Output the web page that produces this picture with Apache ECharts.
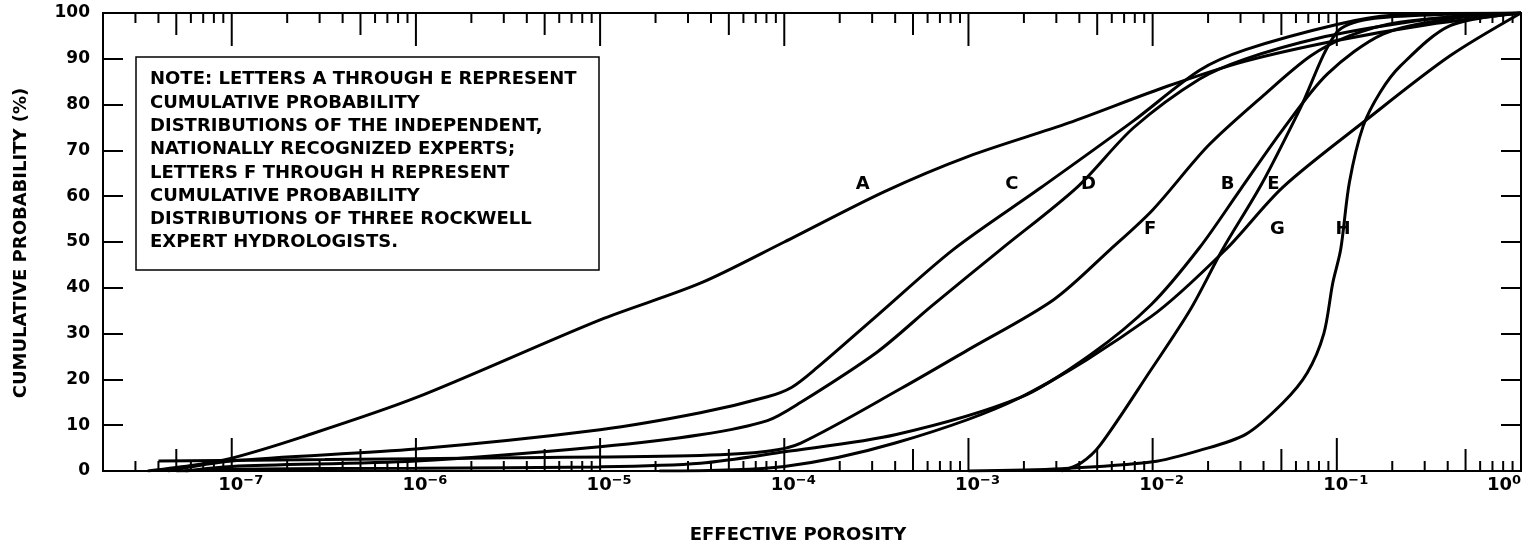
<!DOCTYPE html>
<html>
<head>
<meta charset="utf-8">
<script src="https://cdn.jsdelivr.net/npm/echarts@6/dist/echarts.min.js"></script>
<style>
html,body{margin:0;padding:0;background:#fff;}
#chart{width:1533px;height:547px;}
</style>
</head>
<body>
<div id="chart"></div>
<script>
// ---------- data (porosity, cumulative probability %) ----------
const curveA = [[3.5e-8,0],[6.3e-8,1.3],[1e-7,2.8],[2.4e-7,7.4],[1e-6,16],[1e-5,33],[3.5e-5,41],[1e-4,50],[3.5e-4,61],[1e-3,68.7],[3.5e-3,76],[1.2e-2,84],[3.2e-2,89.5],[0.1,94],[0.316,97.5],[1,100]];
const curveB = [[5e-8,0],[1e-7,0.4],[1e-6,0.6],[1e-5,0.9],[3.5e-5,1.7],[1e-4,4.2],[4e-4,7.9],[1.9e-3,16],[4.6e-3,25.4],[9.8e-3,36.3],[1.8e-2,48.8],[3e-2,61.5],[5.1e-2,74.6],[8.9e-2,86.7],[0.178,95.4],[0.41,98.7],[1,100]];
const curveC = [[4.5e-8,0],[1e-7,2.2],[1e-6,4.8],[1e-5,9],[3.5e-5,12.7],[8.1e-5,16.2],[1.1e-4,18.3],[1.5e-4,22.5],[3.2e-4,34],[8.3e-4,48.4],[2.5e-3,62],[7.9e-3,76.5],[1.8e-2,87.5],[3.2e-2,92],[0.1,97.5],[0.2,99.5],[1,100]];
const curveD = [[5.6e-8,0],[1e-7,1.0],[1e-6,2.2],[1e-5,5.3],[3.5e-5,7.9],[8.1e-5,11],[1.23e-4,15],[3.2e-4,26],[6.3e-4,36],[1.5e-3,48.4],[3.9e-3,62],[7.9e-3,75],[1.8e-2,85.6],[3.2e-2,90],[7.9e-2,94.5],[0.2,97.5],[0.5,99.5],[1,100]];
const curveE = [[3.2e-3,0],[4.1e-3,1.8],[5.2e-3,5.7],[9.8e-3,22.1],[1.6e-2,35.2],[2.4e-2,48.4],[3.9e-2,62.6],[6.3e-2,79],[0.1,95.8],[0.151,98.7],[0.4,99.7],[1,100]];
const curveF = [[4e-8,2.2],[3.2e-7,2.5],[3.2e-6,2.9],[3.5e-5,3.4],[8.1e-5,4.3],[1.23e-4,6.1],[4.3e-4,18],[1e-3,26.5],[2.9e-3,37.4],[5.9e-3,48.4],[1e-2,57],[2e-2,71],[4e-2,82],[7.2e-2,90.6],[0.117,95],[0.219,98],[1,100]];
const curveG = [[2.1e-5,0],[1e-4,1.0],[4e-4,6.1],[1.9e-3,16],[9.8e-3,33.7],[2.5e-2,48.4],[5.1e-2,62],[0.146,76.8],[0.41,90.6],[1,100]];
const curveH = [[1e-3,0],[3.2e-3,0.5],[1e-2,2.0],[1.8e-2,4.5],[3.2e-2,8],[5.1e-2,14.9],[6.9e-2,21.4],[8.5e-2,30],[9.5e-2,41],[0.105,48.4],[0.117,63],[0.139,75.3],[0.172,82.7],[0.221,88.4],[0.41,97.2],[1,100]];

const curveNames = ['A','B','C','D','E','F','G','H'];
const curves = [curveA, curveB, curveC, curveD, curveE, curveF, curveG, curveH];

// letter labels: [letter, porosity, probability]
const curveLabels = [['A',2.67e-4,62.6],['C',1.72e-3,62.6],['D',4.49e-3,62.6],['F',9.7e-3,52.7],['B',2.55e-2,62.6],['E',4.52e-2,62.6],['G',4.75e-2,52.7],['H',0.108,52.7]];

// axes
const xMin = 2e-8, xMax = 1;
const yMin = 0, yMax = 100, yStep = 10;
const decadeExponents = [-7,-6,-5,-4,-3,-2,-1,0];
const minorMultipliers = [2,3,4,5,6,7,8,9];

const noteLines = [
  'NOTE: LETTERS A THROUGH E REPRESENT',
  'CUMULATIVE PROBABILITY',
  'DISTRIBUTIONS OF THE INDEPENDENT,',
  'NATIONALLY RECOGNIZED EXPERTS;',
  'LETTERS F THROUGH H REPRESENT',
  'CUMULATIVE PROBABILITY',
  'DISTRIBUTIONS OF THREE ROCKWELL',
  'EXPERT HYDROLOGISTS.'
];
const xTitle = 'EFFECTIVE POROSITY';
const yTitle = 'CUMULATIVE PROBABILITY (%)';

// ---------- build tick list for log axis (kind: 0 minor, 1 five, 2 decade) ----------
const logTicks = [];
for (let e = -8; e <= 0; e++) {
  const base = Math.pow(10, e);
  if (base >= xMin && base <= xMax) logTicks.push([base, 0, 2]);
  if (e < 0) {
    minorMultipliers.forEach(m => {
      const v = m * base;
      if (v > xMin * 1.01 && v < xMax) logTicks.push([v, 0, m === 5 ? 1 : 0]);
    });
  }
}
const tickLen = [10, 22, 33];

const FONT = 'DejaVu Sans';
const chart = echarts.init(document.getElementById('chart'), null, {renderer: 'canvas'});

const series = curves.map((d, i) => ({
  name: curveNames[i],
  type: 'line',
  data: d,
  showSymbol: false,
  symbol: 'none',
  smooth: 0.3,
  lineStyle: {color: '#000', width: 3},
  silent: true,
  clip: true,
  z: 3
}));

series.push({
  type: 'custom',
  coordinateSystem: 'cartesian2d',
  data: logTicks,
  encode: {x: 0, y: 1},
  silent: true,
  clip: false,
  z: 4,
  renderItem: function (params, api) {
    const x = api.value(0);
    const len = tickLen[api.value(2)];
    const pb = api.coord([x, yMin]);
    const pt = api.coord([x, yMax]);
    const st = {stroke: '#000', lineWidth: 2};
    return {
      type: 'group',
      children: [
        {type: 'line', shape: {x1: pb[0], y1: pb[1], x2: pb[0], y2: pb[1] - len}, style: st},
        {type: 'line', shape: {x1: pt[0], y1: pt[1], x2: pt[0], y2: pt[1] + len}, style: st}
      ]
    };
  }
});

series.push({
  type: 'scatter',
  data: curveLabels.map(l => ({name: l[0], value: [l[1], l[2]]})),
  symbolSize: 0,
  silent: true,
  z: 5,
  itemStyle: {opacity: 1, color: '#000'},
  label: {
    show: true,
    position: 'inside',
    formatter: p => p.name,
    fontFamily: FONT,
    fontSize: 18,
    fontWeight: 'bold',
    color: '#000',
    textBorderWidth: 0
  }
});

const option = {
  animation: false,
  backgroundColor: '#fff',
  grid: {left: 103, top: 13, width: 1418, height: 458, show: true, borderColor: '#000', borderWidth: 2, backgroundColor: 'transparent'},
  xAxis: {
    type: 'log',
    logBase: 10,
    min: xMin,
    max: xMax,
    splitNumber: 10,
    axisLine: {show: false},
    axisTick: {show: false},
    splitLine: {show: false},
    axisLabel: {
      margin: 3,
      showMinLabel: false,
      alignMaxLabel: 'right',
      formatter: function (v) {
        const lg = Math.log10(v);
        const e = Math.round(lg);
        if (Math.abs(lg - e) > 1e-6 || decadeExponents.indexOf(e) < 0) return '';
        return '{b|10}{s|' + (e < 0 ? '\u2212' + (-e) : String(e)) + '}';
      },
      rich: {
        b: {fontFamily: FONT, fontSize: 18, fontWeight: 'bold', color: '#000', lineHeight: 20, verticalAlign: 'bottom', padding: [0, 0, 0, 18]},
        s: {fontFamily: FONT, fontSize: 13, fontWeight: 'bold', color: '#000', lineHeight: 14, verticalAlign: 'top', padding: [0, 0, 20, 0]}
      }
    }
  },
  yAxis: [
    {
      type: 'value', min: yMin, max: yMax, interval: yStep,
      axisLine: {show: false},
      axisTick: {show: true, inside: true, length: 20, lineStyle: {color: '#000', width: 2}},
      splitLine: {show: false},
      axisLabel: {margin: 13, fontFamily: FONT, fontSize: 17, fontWeight: 'bold', color: '#000'}
    },
    {
      type: 'value', position: 'right', min: yMin, max: yMax, interval: yStep,
      axisLine: {show: false},
      axisTick: {show: true, inside: true, length: 20, lineStyle: {color: '#000', width: 2}},
      splitLine: {show: false},
      axisLabel: {show: false}
    }
  ],
  graphic: [
    {type: 'rect', shape: {x: 136, y: 57, width: 463, height: 213}, style: {fill: '#fff', stroke: '#000', lineWidth: 1.5}, z: 10},
    {type: 'text', x: 150, y: 68, z: 11, style: {text: noteLines.join('\n'), fontFamily: FONT, fontSize: 18, fontWeight: 'bold', fill: '#000', lineHeight: 23.3, align: 'left', verticalAlign: 'top'}},
    {type: 'text', x: 798, y: 535, style: {text: xTitle, fontFamily: FONT, fontSize: 18, fontWeight: 'bold', fill: '#000', align: 'center', verticalAlign: 'middle'}},
    {type: 'text', x: 21, y: 243, rotation: Math.PI / 2, style: {text: yTitle, fontFamily: FONT, fontSize: 18, fontWeight: 'bold', fill: '#000', align: 'center', verticalAlign: 'middle'}}
  ],
  series: series
};
chart.setOption(option);
</script>
</body>
</html>
